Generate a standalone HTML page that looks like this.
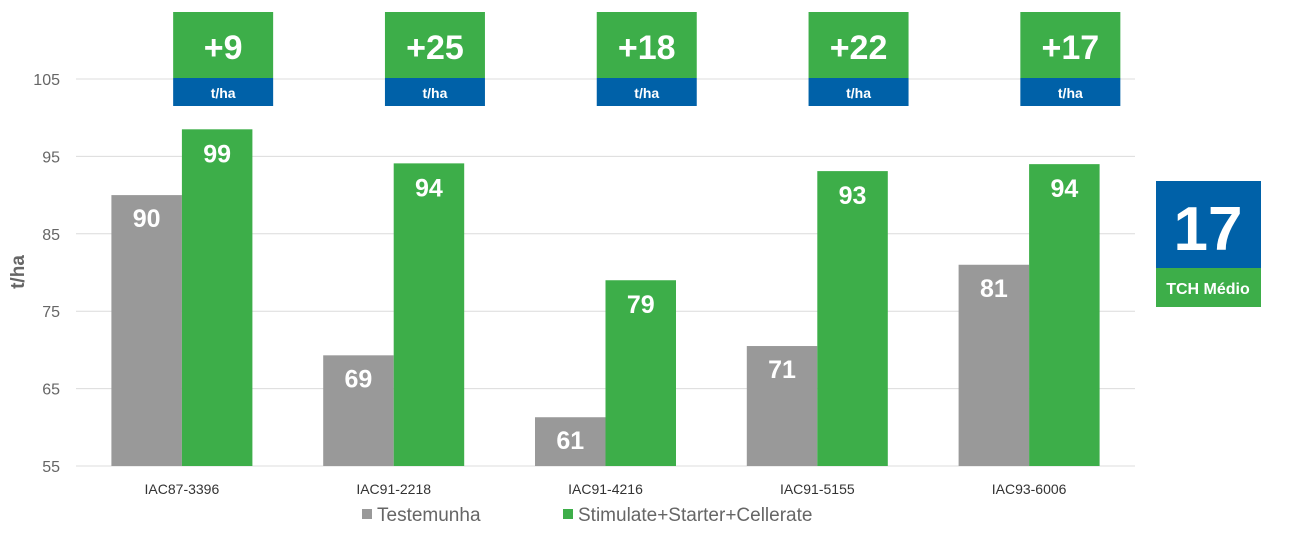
<!DOCTYPE html>
<html><head><meta charset="utf-8"><style>
body{margin:0;background:#fff;width:1299px;height:547px;overflow:hidden;font-family:"Liberation Sans",sans-serif}
svg text{font-family:"Liberation Sans",sans-serif}
</style></head><body>
<svg id="chart" width="1299" height="547" xmlns="http://www.w3.org/2000/svg"></svg>
<script>
const categories=["IAC87-3396","IAC91-2218","IAC91-4216","IAC91-5155","IAC93-6006"];
const testemunha=[90,69.3,61.3,70.5,81];
const stimulate=[98.5,94.1,79,93.1,94];
const testLabels=["90","69","61","71","81"];
const stimLabels=["99","94","79","93","94"];
const gains=["+9","+25","+18","+22","+17"];
const yTicks=[55,65,75,85,95,105];
const average="17";
const NS="http://www.w3.org/2000/svg";
const svg=document.getElementById("chart");
const x0=76,x1=1135,yMin=55,yMax=105,py0=466,py1=79;
const y=v=>py0-(v-yMin)/(yMax-yMin)*(py0-py1);
const groupW=(x1-x0)/categories.length;
const gx=i=>x0+groupW*(i+0.5);
const barW=70.5;
function el(t,a,txt){const e=document.createElementNS(NS,t);for(const k in a)e.setAttribute(k,a[k]);if(txt!=null)e.textContent=txt;svg.appendChild(e);return e;}
yTicks.forEach(v=>{
 const l=el("line",{x1:x0,x2:x1,y1:y(v),y2:y(v),stroke:"#dcdcdc","stroke-width":1});
 
 
 const t=el("text",{x:60,y:y(v)+6,"text-anchor":"end","font-size":16,fill:"#666"},v);
 
 
});
const yt=el("text",{x:0,y:0,transform:"translate(24,272) rotate(-90)","text-anchor":"middle","font-size":19,"font-weight":"bold",fill:"#666"},"t/ha");


categories.forEach((c,i)=>{
 const cx=gx(i);
 const g=el("rect",{x:cx-barW,y:y(testemunha[i]),width:barW,height:py0-y(testemunha[i]),fill:"#999999"});
 
 
 const s=el("rect",{x:cx,y:y(stimulate[i]),width:barW,height:py0-y(stimulate[i]),fill:"#3dae49"});
 
 
 const tl=el("text",{x:cx-barW/2,y:y(testemunha[i])+32,"text-anchor":"middle","font-size":25,"font-weight":"bold",fill:"#fff"},testLabels[i]);
 
 
 const sl=el("text",{x:cx+barW/2,y:y(stimulate[i])+33,"text-anchor":"middle","font-size":25,"font-weight":"bold",fill:"#fff"},stimLabels[i]);
 
 
 const xl=el("text",{x:cx,y:494,"text-anchor":"middle","font-size":14,fill:"#333"},c);
 
 
 const bc=cx+barW/2+6;
 const b1=el("rect",{x:bc-50,y:12,width:100,height:66,fill:"#3dae49"});
 
 
 const b2=el("rect",{x:bc-50,y:78,width:100,height:28,fill:"#0061a8"});
 
 
 const gt=el("text",{x:bc,y:59,"text-anchor":"middle","font-size":34,"font-weight":"bold",fill:"#fff"},gains[i]);
 
 
 const ut=el("text",{x:bc,y:98,"text-anchor":"middle","font-size":14,"font-weight":"bold",fill:"#fff"},"t/ha");
 
 
});
const a1=el("rect",{x:1156,y:181,width:105,height:87,fill:"#0061a8"});


const a2=el("rect",{x:1156,y:268,width:105,height:39,fill:"#3dae49"});


const at=el("text",{x:1208,y:250,"text-anchor":"middle","font-size":62,"font-weight":"bold",fill:"#fff"},average);


const al=el("text",{x:1208,y:294,"text-anchor":"middle","font-size":16,"font-weight":"bold",fill:"#fff"},"TCH Médio");


const l1=el("rect",{x:362,y:509,width:10,height:10,fill:"#999999"});


const l1t=el("text",{x:377,y:521,"font-size":19,fill:"#666"},"Testemunha");


const l2=el("rect",{x:563,y:509,width:10,height:10,fill:"#3dae49"});


const l2t=el("text",{x:578,y:521,"font-size":19,fill:"#666"},"Stimulate+Starter+Cellerate");


</script>
</body></html>
